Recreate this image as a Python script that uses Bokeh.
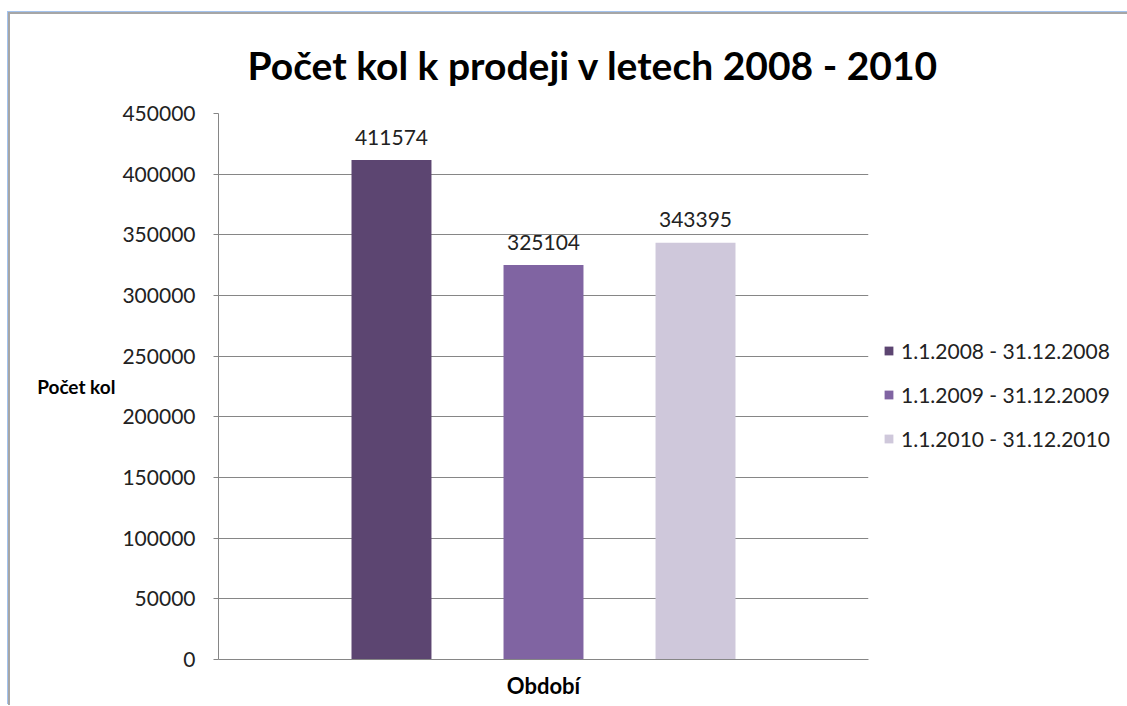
from bokeh.plotting import figure
from bokeh.models import (ColumnDataSource, FactorRange, Legend, LegendItem, LabelSet,
                          FixedTicker, BasicTickFormatter)
from bokeh.core.properties import value
from bokeh.embed import file_html
from bokeh.resources import INLINE

series = ["1.1.2008 - 31.12.2008", "1.1.2009 - 31.12.2009", "1.1.2010 - 31.12.2010"]
values = [411574, 325104, 343395]
colors = ["#5C4571", "#8064A2", "#CFC8DB"]
y_ticks = [0, 50000, 100000, 150000, 200000, 250000, 300000, 350000, 400000, 450000]

FONT = "Lato"

src = ColumnDataSource(dict(x=series, y=values, c=colors, t=[str(v) for v in values]))

p = figure(frame_width=650, frame_height=546,
           x_range=FactorRange(factors=series, range_padding=0.4253),
           y_range=(0, 450000), output_backend="svg", toolbar_location=None,
           min_border_left=208, min_border_right=247, min_border_top=98, min_border_bottom=46)
p.styles = {"margin-top": "12px", "margin-left": "8px",
            "border-top": "2px solid #A6A6A6", "border-left": "2px solid #A6A6A6",
            "box-shadow": "-1px -1px 0 #A4C3EE"}
p.outline_line_color = None
p.background_fill_color = "white"
p.border_fill_color = "white"

p.title.text = "Počet kol k prodeji v letech 2008 - 2010"
p.title.text_font = FONT
p.title.text_font_size = "39px"
p.title.text_font_style = "bold"
p.title.text_color = "black"
p.title.align = "left"
p.title.offset = 29
p.title.standoff = 51

r = p.vbar(x="x", top="y", width=0.526, color="c", source=src, line_color=None)

labels = LabelSet(x="x", y="y", text="t", source=src, text_align="center", text_baseline="middle",
                  y_offset=23, text_font=value(FONT), text_font_size="21px", text_color="#222222")
p.add_layout(labels)

p.xgrid.grid_line_color = None
p.ygrid.grid_line_color = "#868686"
p.ygrid.grid_line_width = 1

p.yaxis.ticker = FixedTicker(ticks=y_ticks)
p.yaxis.formatter = BasicTickFormatter(use_scientific=False)
p.yaxis.major_label_text_font = FONT
p.yaxis.major_label_text_font_size = "21px"
p.yaxis.major_label_text_color = "#222222"
p.yaxis.axis_line_color = "#868686"
p.yaxis.major_tick_line_color = "#868686"
p.yaxis.major_tick_out = 5
p.yaxis.major_tick_in = 0
p.yaxis.minor_tick_line_color = None
p.yaxis.major_label_standoff = 18
p.yaxis.axis_label = "Počet kol"
p.yaxis.axis_label_orientation = "horizontal"
p.yaxis.axis_label_text_font = FONT
p.yaxis.axis_label_text_font_size = "19px"
p.yaxis.axis_label_text_font_style = "bold"
p.yaxis.axis_label_text_color = "black"
p.yaxis.axis_label_standoff = 4

p.xaxis.axis_line_color = "#868686"
p.xaxis.major_tick_line_color = None
p.xaxis.minor_tick_line_color = None
p.xaxis.major_tick_out = 0
p.xaxis.major_tick_in = 0
p.xaxis.major_label_standoff = 0
p.xaxis.major_label_overrides = {s: " " for s in series}
p.xaxis.major_label_text_font_size = "2px"
p.xaxis.major_label_text_alpha = 0
p.xaxis.axis_label = "Období"
p.xaxis.axis_label_text_font = FONT
p.xaxis.axis_label_text_font_size = "22px"
p.xaxis.axis_label_text_font_style = "bold"
p.xaxis.axis_label_text_color = "black"
p.xaxis.axis_label_standoff = 12

items = [LegendItem(label=s, renderers=[r], index=i) for i, s in enumerate(series)]
legend = Legend(items=items, location=(15, 208), orientation="vertical", ncols=1,
                padding=0, margin=0, spacing=19,
                glyph_width=11, glyph_height=11, label_height=20, label_standoff=7,
                label_text_font=FONT, label_text_font_size="21px", label_text_color="#222222",
                border_line_color=None, background_fill_alpha=0)
p.add_layout(legend, "right")

open("out.html", "w").write(file_html(p, INLINE))
